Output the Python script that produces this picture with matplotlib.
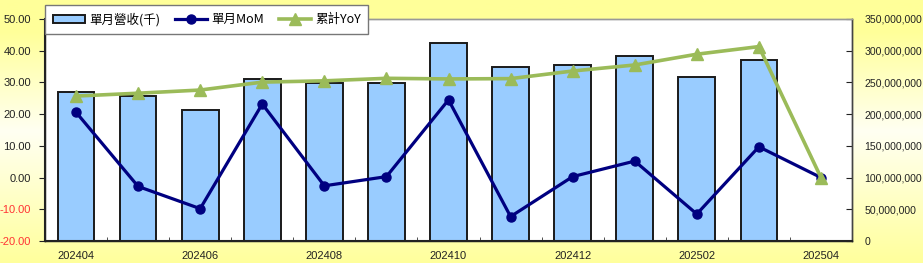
import matplotlib
matplotlib.use("Agg")
import matplotlib.pyplot as plt
import numpy as np
from matplotlib.colors import LinearSegmentedColormap

months = ["202404", "202405", "202406", "202407", "202408", "202409", "202410",
          "202411", "202412", "202501", "202502", "202503", "202504"]
revenue = [235e6, 228.6e6, 206.5e6, 256e6, 249.6e6, 249.6e6, 312.6e6,
           274.8e6, 277.5e6, 292.2e6, 259e6, 285.4e6, 0]
mom = [20.6, -2.8, -9.8, 23.2, -2.6, 0.3, 24.5, -12.3, 0.3, 5.2, -11.5, 9.7, 0.0]
yoy = [25.7, 26.6, 27.6, 30.1, 30.5, 31.3, 31.1, 31.2, 33.6, 35.5, 38.9, 41.3, 0.0]
left_ticks = [-20, -10, 0, 10, 20, 30, 40, 50]
right_ticks = [0, 50e6, 100e6, 150e6, 200e6, 250e6, 300e6, 350e6]

plt.rcParams['font.family'] = ['Liberation Sans', 'Noto Sans CJK TC', 'DejaVu Sans']

W, H = 923, 263
fig = plt.figure(figsize=(W/100, H/100), dpi=100)

# background gradient
bg = fig.add_axes([0, 0, 1, 1], zorder=-10)
cmap = LinearSegmentedColormap.from_list("bg", [(0, "#FFFF99"), (0.12, "#FFFF99"), (0.5, "#FFFFF2"), (1, "#FFFF9C")])
grad = np.linspace(0, 1, 256).reshape(-1, 1)
bg.imshow(grad, aspect="auto", cmap=cmap, extent=[0, 1, 0, 1])
bg.axis("off")

l, r, b, t = 45/W, 852/W, (H-241)/H, (H-19)/H
ax = fig.add_axes([l, b, r-l, t-b])
ax.set_facecolor("white")
x = np.arange(len(months))
ax.bar(x, revenue, width=0.59, color="#99CCFF", edgecolor="#1a1a1a", linewidth=1.4, zorder=2,
       label="單月營收(千)")
ax2 = ax.twinx()

FS = 7.6
ax.set_ylim(0, 350e6)
ax.set_yticks(right_ticks)
ax.set_yticklabels([f"{int(v):,}" for v in right_ticks])
ax.yaxis.tick_right()
ax.yaxis.set_label_position("right")
ax.tick_params(axis="y", direction="in", length=4, labelsize=FS, pad=9, colors="#222222")
ax.set_xlim(-0.5, len(months)-0.5)
ax.set_xticks(x[::2])
ax.set_xticklabels(months[::2])
ax.set_xticks(np.arange(0.5, len(months)-0.5, 1), minor=True)
ax.tick_params(axis="x", which="major", length=0, labelsize=8, pad=7, colors="#222222")
ax.tick_params(axis="x", which="minor", direction="in", length=3, color="#333333")

ax2.yaxis.tick_left()
ax2.yaxis.set_label_position("left")
ax2.plot(x, mom, color="#000080", lw=2.3, marker="o", ms=6.5, zorder=3, label="單月MoM")
ax2.plot(x, yoy, color="#9BBB59", lw=2.6, marker="^", ms=8, zorder=4, label="累計YoY")
ax2.set_ylim(-20, 50)
ax2.set_yticks(left_ticks)
ax2.set_yticklabels([f"{v:.2f}" for v in left_ticks])
ax2.tick_params(axis="y", direction="out", length=4, labelsize=8, pad=6, colors="#222222")
for lab, v in zip(ax2.get_yticklabels(), left_ticks):
    lab.set_color("#FF3333" if v < 0 else "#222222")

for a in (ax, ax2):
    a.spines["left"].set_color("#222222")
    a.spines["bottom"].set_color("#222222")
    a.spines["right"].set_color("#444444")
    a.spines["top"].set_color("#999999")
    for s in a.spines.values():
        s.set_linewidth(1.0)
ax2.spines["left"].set_linewidth(1.5)
ax2.spines["bottom"].set_linewidth(1.5)

h1, l1 = ax.get_legend_handles_labels()
h2, l2 = ax2.get_legend_handles_labels()
leg = fig.legend(h1 + h2, l1 + l2, loc="upper left", bbox_to_anchor=(45/W, 1-5/H), ncol=3,
                 fancybox=False, framealpha=1, edgecolor="#777777", borderaxespad=0,
                 handlelength=2.6, handleheight=0.6, columnspacing=1.2, handletextpad=0.3,
                 borderpad=0.6, prop={"family": ["Noto Sans CJK TC", "DejaVu Sans"], "size": 9})
leg.get_frame().set_linewidth(1.0)
leg.set_zorder(10)

fig.savefig("out.png", dpi=100)
